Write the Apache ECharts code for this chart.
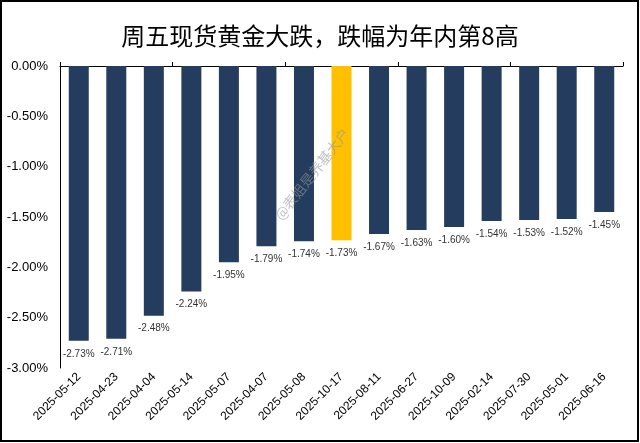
<!DOCTYPE html>
<html><head><meta charset="utf-8">
<script src="https://cdn.jsdelivr.net/npm/echarts@6/dist/echarts.min.js"></script>
<style>html,body{margin:0;padding:0;background:#fff}#c{width:640px;height:443px}</style>
</head><body><div id="c"></div>
<script>
const title = '周五现货黄金大跌，跌幅为年内第8高';
const categories = ['2025-05-12','2025-04-23','2025-04-04','2025-05-14','2025-05-07','2025-04-07','2025-05-08','2025-10-17','2025-08-11','2025-06-27','2025-10-09','2025-02-14','2025-07-30','2025-05-01','2025-06-16'];
const values = [-2.73,-2.71,-2.48,-2.24,-1.95,-1.79,-1.74,-1.73,-1.67,-1.63,-1.60,-1.54,-1.53,-1.52,-1.45];
const highlight = '2025-10-17';
const watermark = '@表姐是养基大户';

const chart = echarts.init(document.getElementById('c'), null, {renderer:'canvas'});
const font = 'Liberation Sans, Arial, sans-serif';
chart.setOption({
  animation:false,
  backgroundColor:'#fff',
  title:{text:title,left:'center',top:19,textStyle:{fontFamily:'Noto Sans CJK SC',fontWeight:'normal',fontSize:24,color:'#000'}},
  grid:{left:60,right:17,top:66,bottom:75,containLabel:false},
  xAxis:[{
    type:'category',data:categories,position:'bottom',
    axisLine:{show:false},axisTick:{show:false},
    axisLabel:{rotate:45,fontSize:12,color:'#000',fontFamily:font,margin:7,interval:0}
  },{
    type:'category',data:categories,position:'top',
    axisLine:{show:true,lineStyle:{color:'#000',width:1}},
    axisTick:{show:true,length:4,lineStyle:{color:'#000'}},
    axisLabel:{show:false}
  }],
  yAxis:{type:'value',min:-3,max:0,interval:0.5,
    axisLine:{show:true,lineStyle:{color:'#000',width:1}},axisTick:{show:false},
    splitLine:{show:false},
    axisLabel:{formatter:v=>v.toFixed(2)+'%',fontSize:13,color:'#000',fontFamily:font,margin:12}},
  series:[{
    type:'bar',xAxisIndex:0,barWidth:20,
    data:values.map((v,i)=>({value:v,itemStyle:{color:categories[i]===highlight?'#FFC000':'#243D5E'}})),
    label:{show:true,position:'bottom',distance:8,formatter:p=>p.value.toFixed(2)+'%',fontSize:10,color:'#333',fontFamily:font}
  }],
  graphic:[
    {type:'rect',shape:{x:1,y:1,width:637,height:440},style:{fill:'none',stroke:'#000',lineWidth:2},z:100},
    {type:'text',x:312,y:174,rotation:52*Math.PI/180,style:{text:watermark,fontSize:14,fill:'rgba(150,150,150,0.6)',fontFamily:'Noto Sans CJK SC',align:'center',verticalAlign:'middle'},z:100}
  ]
});
</script></body></html>
